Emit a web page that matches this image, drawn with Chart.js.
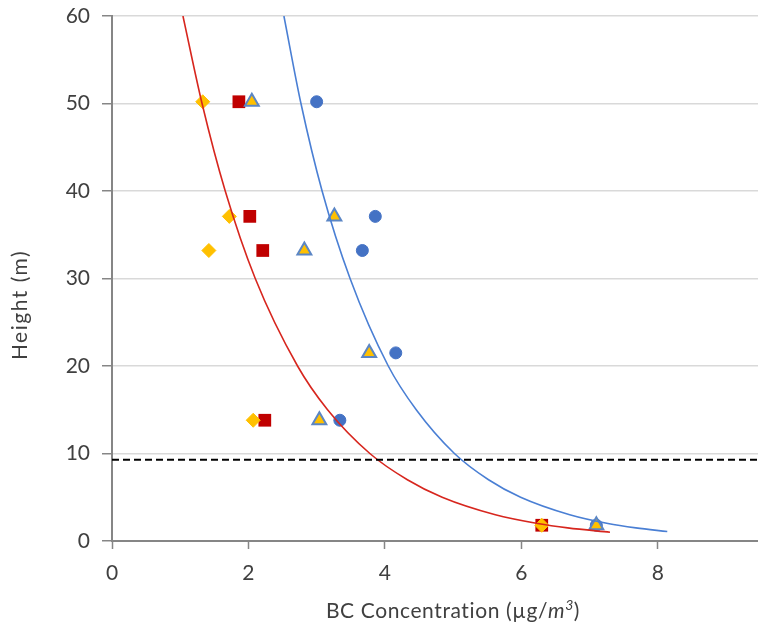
<!DOCTYPE html>
<html>
<head>
<meta charset="utf-8">
<script src="https://cdn.jsdelivr.net/npm/chart.js@4"></script>
<style>
  html, body { margin: 0; padding: 0; background: #fff; }
  #wrap { width: 758px; height: 626px; position: relative; }
</style>
</head>
<body>
<div id="wrap"><canvas id="bcChart"></canvas></div>
<script>
  // 高さごとの BC 濃度（µg/m3）
  var diamondX = [6.30, 2.07, 1.42, 1.72, 1.33];
  var diamondY = [1.8, 13.8, 33.2, 37.1, 50.2];
  var squareX = [6.30, 2.24, 2.21, 2.02, 1.86];
  var squareY = [1.8, 13.8, 33.2, 37.1, 50.2];
  var triangleX = [7.10, 3.04, 3.77, 2.82, 3.26, 2.05];
  var triangleY = [1.8, 13.8, 21.5, 33.2, 37.1, 50.2];
  var circleX = [7.10, 3.34, 4.16, 3.67, 3.86, 3.00];
  var circleY = [1.8, 13.8, 21.5, 33.2, 37.1, 50.2];

  // 近似曲線（指数）
  var redFitX = [1.04, 1.32, 1.66, 2.10, 2.72, 3.16, 3.78, 4.33, 4.84, 5.62, 6.24, 6.68, 7.30];
  var redFitY = [60, 50, 40, 30, 20, 15, 10, 7, 5, 3, 2, 1.5, 1.0];
  var blueFitX = [2.52, 2.77, 3.08, 3.49, 4.05, 4.46, 5.02, 5.52, 5.99, 6.71, 7.27, 7.68, 8.14];
  var blueFitY = [60, 50, 40, 30, 20, 15, 10, 7, 5, 3, 2, 1.5, 1.08];

  // 混合層の目安
  var refLineX = [0, 9.47];
  var refLineY = [9.3, 9.3];

  var xTicks = [0, 2, 4, 6, 8];
  var yTicks = [0, 10, 20, 30, 40, 50, 60];

  var FONT = "Lato, 'Open Sans', sans-serif";
  var TEXT = "#404040", AXIS = "#868686", GRID = "#d9d9d9";

  function pts(xs, ys) { return xs.map(function (x, i) { return { x: x, y: ys[i] }; }); }

  function marker(label, xs, ys, style, r, fill, line, bw, order) {
    return {
      label: label, data: pts(xs, ys), pointStyle: style, pointRadius: r, pointHoverRadius: r,
      backgroundColor: fill, borderColor: line, pointBorderWidth: bw, borderWidth: bw, showLine: false, order: order
    };
  }

  function curve(label, xs, ys, color, order) {
    return {
      label: label, data: pts(xs, ys), showLine: true, pointRadius: 0, borderColor: color,
      borderWidth: 1.6, cubicInterpolationMode: "monotone", fill: false, order: order
    };
  }

  // 軸タイトル（m を斜体、3 を上付きで）
  var axisTitles = {
    id: "axisTitles",
    afterDraw: function (chart) {
      var ctx = chart.ctx;
      ctx.save();
      ctx.fillStyle = TEXT;
      ctx.textBaseline = "alphabetic";
      ctx.textAlign = "left";
      ctx.letterSpacing = "0.6px";
      var parts = [
        { t: "BC Concentration (µg/", f: "21px " + FONT, dy: 0 },
        { t: "m", f: "italic 21px " + FONT, dy: 0 },
        { t: "3", f: "italic 14px " + FONT, dy: -8 },
        { t: ")", f: "21px " + FONT, dy: 0 }
      ];
      var w = 0;
      parts.forEach(function (p) { ctx.font = p.f; w += ctx.measureText(p.t).width; });
      var x = 453 - w / 2, y = 618;
      parts.forEach(function (p) { ctx.font = p.f; ctx.fillText(p.t, x, y + p.dy); x += ctx.measureText(p.t).width; });

      ctx.font = "21px " + FONT;
      ctx.letterSpacing = "1.5px";
      ctx.translate(27, 305);
      ctx.rotate(-Math.PI / 2);
      ctx.textAlign = "center";
      ctx.fillText("Height (m)", 0, 0);
      ctx.restore();
    }
  };

  new Chart(document.getElementById("bcChart"), {
    type: "scatter",
    data: {
      datasets: [
        curve("fit-red", redFitX, redFitY, "#d7261e", 1),
        curve("fit-blue", blueFitX, blueFitY, "#4a7fd4", 1),
        { label: "ref", data: pts(refLineX, refLineY), showLine: true, pointRadius: 0, borderColor: "#000",
          borderWidth: 2, borderDash: [7, 4], order: 0 },
        marker("tri", triangleX, triangleY, "triangle", 8, "#ffc000", "#5b86c5", 2, 2),
        marker("dia", diamondX, diamondY, "rectRot", 7, "#ffc000", "#ffc000", 1, 3),
        marker("cir", circleX, circleY, "circle", 6, "#4472c4", "#4472c4", 1, 4),
        marker("sq", squareX, squareY, "rect", 9, "#c00000", "#c00000", 0, 5)
      ]
    },
    options: {
      responsive: true, maintainAspectRatio: false, animation: false,
      layout: { autoPadding: false, padding: { top: 16, right: 0, left: 0, bottom: 0 } },
      plugins: { legend: { display: false }, tooltip: { enabled: false } },
      scales: {
        x: {
          type: "linear", min: 0, max: 9.47,
          afterFit: function (s) { s.height = 85; s.paddingLeft = 0; s.paddingRight = 0; },
          afterBuildTicks: function (s) { s.ticks = xTicks.map(function (v) { return { value: v }; }); },
          grid: { display: true, drawOnChartArea: false, tickColor: AXIS, tickLength: 8, tickWidth: 1.5 },
          border: { color: AXIS, width: 2 },
          ticks: { color: TEXT, font: { family: FONT, size: 21 }, padding: 12, maxRotation: 0 }
        },
        y: {
          type: "linear", min: 0, max: 60,
          afterFit: function (s) { s.width = 112; s.paddingTop = 0; s.paddingBottom = 0; },
          afterBuildTicks: function (s) { s.ticks = yTicks.map(function (v) { return { value: v }; }); },
          grid: { color: GRID, lineWidth: 1.5, tickColor: AXIS, tickLength: 10, tickWidth: 1.5 },
          border: { color: AXIS, width: 2 },
          ticks: { color: TEXT, font: { family: FONT, size: 21 }, padding: 12 }
        }
      }
    },
    plugins: [axisTitles]
  });
</script>
</body>
</html>
